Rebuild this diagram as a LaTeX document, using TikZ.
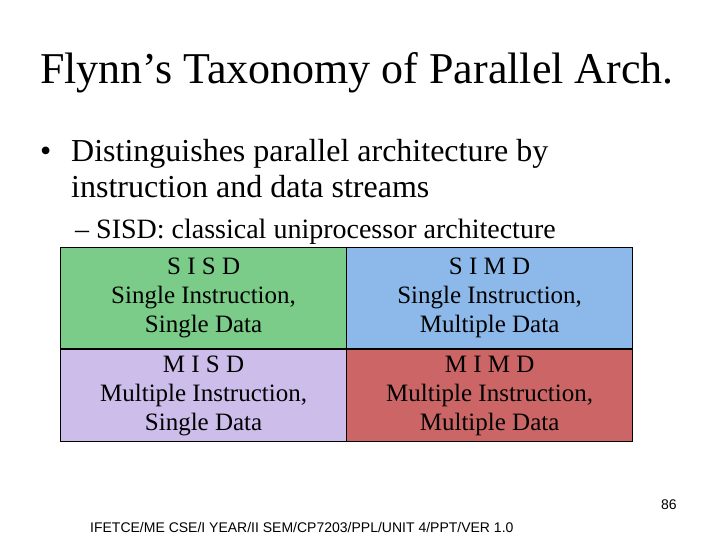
\documentclass[tikz,border=0pt]{standalone}
\usepackage{fontspec}
\setmainfont{Liberation Serif}
\newfontfamily\footfont{Liberation Sans}
\definecolor{cgreen}{RGB}{122,204,136}
\definecolor{cblue}{RGB}{141,185,234}
\definecolor{clav}{RGB}{204,189,234}
\definecolor{cred}{RGB}{204,102,102}
\begin{document}
\begin{tikzpicture}[x=1pt,y=-1pt,
  cell/.style={draw=black,line width=1.2pt,minimum width=286pt,minimum height=101pt,anchor=north west,inner sep=0pt},
  celltext/.style={align=center,font=\fontsize{25}{29}\selectfont},
  txt/.style={anchor=base west,inner sep=0pt}]
\useasboundingbox (0,0) rectangle (720,540);
\node[txt,font=\fontsize{44}{48}\selectfont] (title) at (40,84) {Flynn’s Taxonomy of Parallel Arch.};
\node[txt,font=\fontsize{32}{36}\selectfont] (bul) at (40,162) {•};
\node[txt,font=\fontsize{32}{36}\selectfont] (b1) at (71,162) {Distinguishes parallel architecture by};
\node[txt,font=\fontsize{32}{36}\selectfont] (b2) at (71,197) {instruction and data streams};
\node[txt,font=\fontsize{28}{32}\selectfont] (s1) at (75,239) {– SISD: classical uniprocessor architecture};
\node[cell,fill=cgreen] (c1) at (60,247) {};
\node[cell,fill=cblue] (c2) at (346,247) {};
\node[cell,fill=clav,minimum height=92pt] (c3) at (60,349) {};
\node[cell,fill=cred,minimum height=92pt] (c4) at (346,349) {};
\node[celltext] (t1) at (c1.center) {S I S D\\Single Instruction,\\Single Data};
\node[celltext] (t2) at (c2.center) {S I M D\\Single Instruction,\\Multiple Data};
\node[celltext] (t3) at (c3.center) {M I S D\\Multiple Instruction,\\Single Data};
\node[celltext] (t4) at (c4.center) {M I M D\\Multiple Instruction,\\Multiple Data};
\node[txt,font=\footfont\fontsize{14}{16}\selectfont] (pg) at (661,509) {86};
\node[txt,font=\footfont\fontsize{14}{16}\selectfont] (ft) at (90,532) {IFETCE/ME CSE/I YEAR/II SEM/CP7203/PPL/UNIT 4/PPT/VER 1.0};
\end{tikzpicture}
\end{document}
